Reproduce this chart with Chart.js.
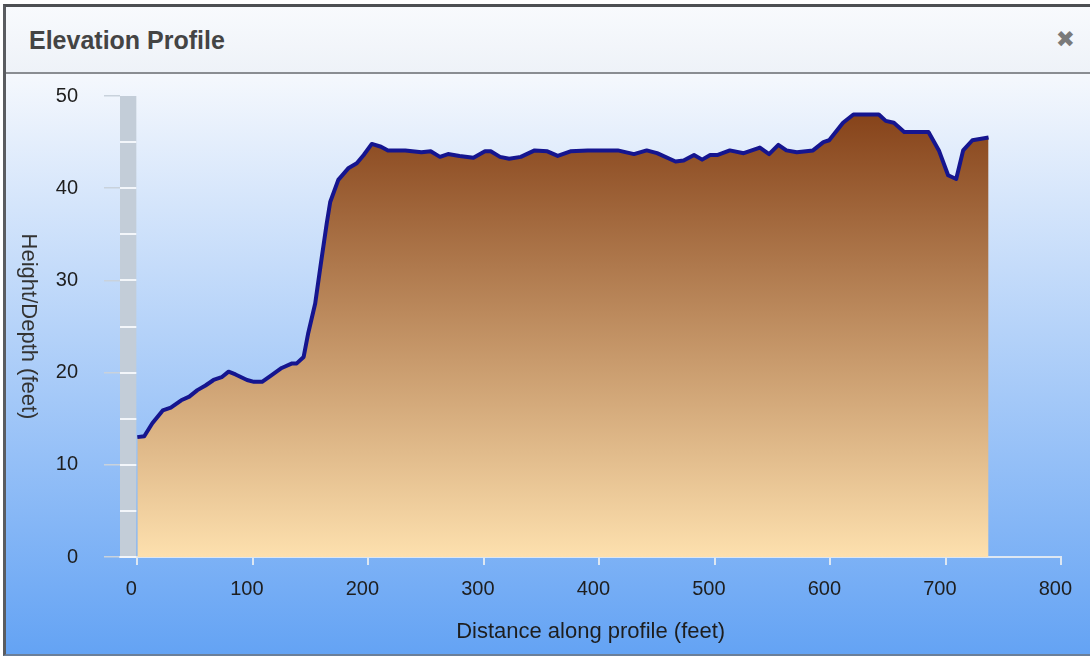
<!DOCTYPE html>
<html>
<head>
<meta charset="utf-8">
<title>Elevation Profile</title>
<script src="https://cdn.jsdelivr.net/npm/chart.js@4.4.0/dist/chart.umd.min.js"></script>
<style>
  html, body { margin: 0; padding: 0; background: #ffffff; overflow: hidden; }
  #win {
    position: absolute; left: 3px; top: 4px; width: 1087px; height: 652px;
    border-top: 3px solid #4d4f52; border-left: 3px solid #5a5c60;
    border-bottom: 2px solid #6b7f99; box-sizing: border-box;
  }
  #head {
    position: absolute; left: 0; top: 0; right: 0; height: 65px;
    background: linear-gradient(#f8fafd, #eef2f8);
    border-bottom: 2px solid #8a8d92;
  }
  #head h1 {
    margin: 0; position: absolute; left: 23px; top: 19px;
    font: bold 25px "Liberation Sans", Arial, sans-serif; color: #444444;
  }
  #close {
    position: absolute; right: 15px; top: 19px;
    font: bold 23px "DejaVu Sans", sans-serif; color: #7a7a7a;
  }
  #body {
    position: absolute; left: 0; top: 67px; right: 0; bottom: 0;
    background: linear-gradient(#f5f8fd, #64a3f4);
  }
  canvas { display: block; }
</style>
</head>
<body>
<div id="win">
  <div id="head"><h1>Elevation Profile</h1><span id="close">✖</span></div>
  <div id="body"><canvas id="chart" width="1084" height="580"></canvas></div>
</div>
<script>
// distance along profile (feet)
var distances = [
  0, 6, 13, 22, 29, 38, 45, 52, 59, 66, 73, 79, 85, 95, 101, 108, 116, 125,
  134, 138, 144, 148, 154, 159, 164, 167, 174, 183, 190, 196, 203, 211, 217,
  232, 246, 254, 262, 269, 279, 291, 301, 306, 314, 322, 332, 344, 355, 364,
  375, 390, 416, 430, 441, 450, 466, 473, 482, 489, 496, 502, 513, 525, 539,
  547, 555, 562, 571, 585, 594, 599, 611, 620, 642, 648, 655, 664, 685, 694,
  702, 709, 715, 723, 737
];
// height/depth (feet)
var heights = [
  13.0, 13.1, 14.5, 15.9, 16.2, 17.0, 17.4, 18.1, 18.6, 19.2, 19.5, 20.1, 19.8,
  19.2, 19.0, 19.0, 19.7, 20.5, 21.0, 21.0, 21.7, 24.3, 27.5, 31.9, 36.2, 38.5,
  40.9, 42.2, 42.7, 43.6, 44.8, 44.5, 44.1, 44.1, 43.9, 44.0, 43.4, 43.7, 43.5,
  43.3, 44.0, 44.0, 43.4, 43.2, 43.4, 44.1, 44.0, 43.5, 44.0, 44.1, 44.1, 43.7,
  44.1, 43.8, 42.9, 43.0, 43.6, 43.1, 43.6, 43.6, 44.1, 43.8, 44.4, 43.7, 44.7,
  44.1, 43.9, 44.1, 45.0, 45.2, 47.1, 48.0, 48.0, 47.3, 47.1, 46.1, 46.1, 44.1,
  41.4, 41.0, 44.1, 45.2, 45.5
];
var xTicks = [0, 100, 200, 300, 400, 500, 600, 700, 800];
var yTicks = [0, 10, 20, 30, 40, 50];
var bandMarks = [0, 5, 10, 15, 20, 25, 30, 35, 40, 45];

var X_MIN = -15;
var FONT_FAMILY = "'Liberation Sans', Arial, sans-serif";
var LABEL_FONT = { family: FONT_FAMILY, size: 20 };

function earthFill(context) {
  var chart = context.chart;
  if (!chart.chartArea) return "#c39362";
  var y = chart.scales.y;
  var g = chart.ctx.createLinearGradient(0, y.getPixelForValue(48), 0, y.getPixelForValue(0));
  g.addColorStop(0, "#86431a");
  g.addColorStop(1, "#fde0ae");
  return g;
}

// grey strip left of the data with white marks every 5 feet
var axisBand = {
  id: "axisBand",
  beforeDatasetsDraw: function (chart) {
    var ctx = chart.ctx;
    var x = chart.scales.x;
    var y = chart.scales.y;
    var left = x.getPixelForValue(X_MIN);
    var right = x.getPixelForValue(0) - 1;
    ctx.save();
    ctx.fillStyle = "#c3cdd8";
    ctx.fillRect(left, y.top, right - left, y.bottom - y.top);
    ctx.strokeStyle = "#f3f6fa";
    ctx.lineWidth = 2;
    bandMarks.forEach(function (v) {
      var py = Math.round(y.getPixelForValue(v));
      ctx.beginPath();
      ctx.moveTo(left, py);
      ctx.lineTo(right, py);
      ctx.stroke();
    });
    ctx.restore();
  },
  afterDraw: function (chart) {
    // y title reads top to bottom
    var ctx = chart.ctx;
    var y = chart.scales.y;
    ctx.save();
    ctx.translate(22, (y.top + y.bottom) / 2);
    ctx.rotate(Math.PI / 2);
    ctx.fillStyle = "#333333";
    ctx.font = "22px " + FONT_FAMILY;
    ctx.textAlign = "center";
    ctx.textBaseline = "middle";
    ctx.fillText("Height/Depth (feet)", 0, 0);
    ctx.restore();
  },
};

var points = distances.map(function (d, i) {
  return { x: d, y: heights[i] };
});

new Chart(document.getElementById("chart").getContext("2d"), {
  type: "line",
  data: {
    datasets: [
      {
        label: "Elevation",
        data: points,
        borderColor: "#15158f",
        borderWidth: 4,
        borderJoinStyle: "round",
        backgroundColor: earthFill,
        fill: "origin",
        pointRadius: 0,
        tension: 0,
      },
    ],
  },
  options: {
    responsive: false,
    animation: false,
    devicePixelRatio: 1,
    layout: { padding: { top: 22, right: 24, left: 0, bottom: 0 } },
    plugins: { legend: { display: false }, tooltip: { enabled: false } },
    scales: {
      x: {
        type: "linear",
        min: X_MIN,
        max: 800,
        afterBuildTicks: function (scale) {
          scale.ticks = xTicks.map(function (v) { return { value: v }; });
        },
        afterFit: function (scale) { scale.height = 97; },
        border: { display: true, color: "#dde7f2", width: 2 },
        grid: {
          drawOnChartArea: false,
          drawTicks: true,
          tickLength: 8,
          color: "#dde7f2",
          lineWidth: 2,
        },
        ticks: {
          color: "#1e1e1e",
          font: LABEL_FONT,
          padding: 12,
          maxRotation: 0,
          labelOffset: -6,
        },
        title: {
          display: true,
          text: "Distance along profile (feet)",
          color: "#1e1e1e",
          font: { family: FONT_FAMILY, size: 22 },
          padding: { top: 0, bottom: 9 },
        },
      },
      y: {
        min: 0,
        max: 50,
        afterBuildTicks: function (scale) {
          scale.ticks = yTicks.map(function (v) { return { value: v }; });
        },
        afterFit: function (scale) {
          scale.width = 114;
          scale.paddingTop = 0;
          scale.paddingBottom = 0;
        },
        border: { display: false },
        grid: {
          drawOnChartArea: false,
          drawTicks: true,
          tickLength: 16,
          color: "#c9d2dc",
          lineWidth: 1.5,
        },
        ticks: { color: "#1e1e1e", font: LABEL_FONT, padding: 26 },
      },
    },
  },
  plugins: [axisBand],
});
</script>
</body>
</html>
